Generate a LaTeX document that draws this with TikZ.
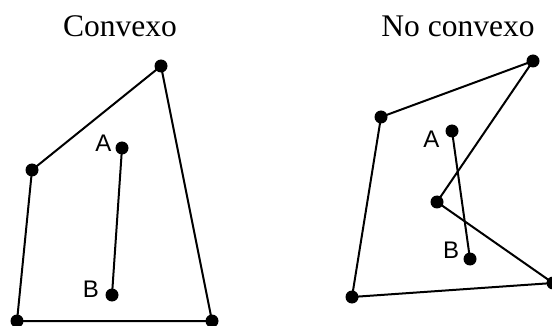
\documentclass[tikz,border=0pt]{standalone}
\usepackage{fontspec}
\setmainfont{Liberation Serif}
\newfontfamily\tagfont{Liberation Sans}
\usepackage{tikz}
\usetikzlibrary{positioning}

\begin{document}
\begin{tikzpicture}[x=1pt,y=-1pt,
    vertex/.style={circle,fill=black,inner sep=0pt,minimum size=13pt},
    title/.style={font=\fontsize{31.5}{36}\selectfont,anchor=base},
    tag/.style={font=\tagfont\fontsize{24}{28}\selectfont,inner sep=0pt},
    side/.style={line width=2pt}]
    \useasboundingbox (0,0) rectangle (552,326);
    % convexo
    \node[title] (convex) at (120,37) {Convexo};
    \node[vertex] (c1) at (161,66) {};
    \node[vertex] (c2) at (32,170) {};
    \node[vertex] (c3) at (17,321) {};
    \node[vertex] (c4) at (212,321) {};
    \node[vertex] (ca) at (122,148) {};
    \node[vertex] (cb) at (112,295) {};
    \node[tag] (ca label) at (103.5,143) {A};
    \node[tag] (cb label) at (91,289.5) {B};
    \draw[side] (c1.center) -- (c2.center) -- (c3.center) -- (c4.center) -- cycle;
    \draw[side] (ca.center) -- (cb.center);
    % no convexo
    \node[title] (nonconvex) at (458,37) {No convexo};
    \node[vertex] (n1) at (533,61) {};
    \node[vertex] (n2) at (381,117) {};
    \node[vertex] (n3) at (352,297) {};
    \node[vertex] (n4) at (553,283) {};
    \node[vertex] (n5) at (437,202) {};
    \node[vertex] (na) at (452,131) {};
    \node[vertex] (nb) at (470,259) {};
    \node[tag] (na label) at (431.5,139.5) {A};
    \node[tag] (nb label) at (451,250.5) {B};
    \draw[side] (n1.center) -- (n2.center) -- (n3.center) -- (n4.center) -- (n5.center) -- cycle;
    \draw[side] (na.center) -- (nb.center);
  \end{tikzpicture}
\end{document}
